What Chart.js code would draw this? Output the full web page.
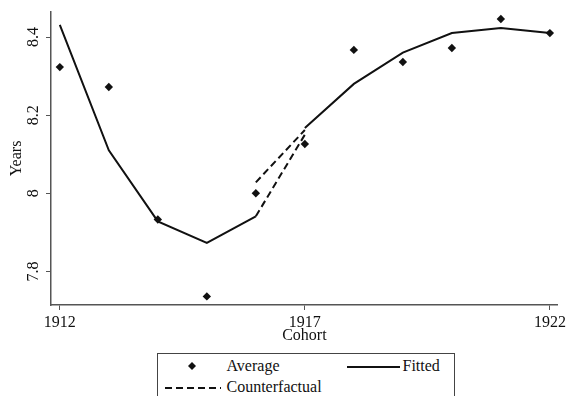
<!DOCTYPE html>
<html>
<head>
<meta charset="utf-8">
<script src="https://cdn.jsdelivr.net/npm/chart.js@4/dist/chart.umd.min.js"></script>
<style>
  html, body { margin: 0; padding: 0; background: #fff; }
  #wrap { position: relative; width: 569px; height: 396px; overflow: hidden; background: #fff; }
  #c { position: absolute; left: 0; top: 0; }
  #legend { position: absolute; left: 157px; top: 353px; width: 296px; height: 70px;
            border: 1.5px solid #444; background: #fff; font-family: "Liberation Serif", "Times New Roman", serif;
            font-size: 16px; color: #111; }
  #legend .t { position: absolute; line-height: 20px; white-space: nowrap; }
  #legend svg { position: absolute; overflow: visible; }
</style>
</head>
<body>
<div id="wrap">
  <canvas id="c" width="569" height="396"></canvas>
  <div id="legend"></div>
</div>
<script>
// ---- data ----
const cohorts  = [1912, 1913, 1914, 1915, 1916, 1917, 1918, 1919, 1920, 1921, 1922];
const average  = [8.323, 8.272, 7.933, 7.736, 8.000, 8.126, 8.367, 8.336, 8.372, 8.446, 8.410];
const fitted   = [8.431, 8.110, 7.928, 7.873, 7.941, 8.167, 8.280, 8.360, 8.410, 8.423, 8.410];
const fittedBreakAfter = 1916;          // fitted line is broken between 1916 and 1917
const cfYears  = [1916, 1917];
const cfUpper  = [8.028, 8.162];
const cfLower  = [7.941, 8.150];
const xTicks   = [1912, 1917, 1922];
const yTicks   = [7.8, 8.0, 8.2, 8.4];
const seriesLabels = ['Average', 'Fitted', 'Counterfactual'];

const toXY = (xs, ys) => xs.map((x, i) => ({ x: x, y: ys[i] }));
const fittedXY = toXY(cohorts, fitted);
const fittedPre  = fittedXY.filter(p => p.x <= fittedBreakAfter);
const fittedPost = fittedXY.filter(p => p.x > fittedBreakAfter);

const INK = '#111';
const AXIS = '#555';
const font = { family: '"Liberation Serif", "Times New Roman", serif', size: 16 };

const lineStyle = { borderColor: INK, borderWidth: 2, pointRadius: 0, tension: 0, fill: false };

new Chart(document.getElementById('c'), {
  type: 'line',
  data: {
    datasets: [
      { label: seriesLabels[0], data: toXY(cohorts, average), showLine: false,
        pointStyle: 'rectRot', pointRadius: 4.2, pointBackgroundColor: INK, pointBorderWidth: 0, order: 0 },
      Object.assign({ label: seriesLabels[1], data: fittedPre, order: 1 }, lineStyle),
      Object.assign({ label: seriesLabels[1] + ' (post)', data: fittedPost, order: 1 }, lineStyle),
      Object.assign({ label: seriesLabels[2], data: toXY(cfYears, cfUpper), borderDash: [7, 4], order: 2 }, lineStyle),
      Object.assign({ label: seriesLabels[2] + ' (2)', data: toXY(cfYears, cfLower), borderDash: [7, 4], order: 2 }, lineStyle)
    ]
  },
  options: {
    responsive: false,
    animation: false,
    devicePixelRatio: 1,
    layout: { padding: { top: 12, right: 8, left: 0, bottom: 0 } },
    plugins: { legend: { display: false }, tooltip: { enabled: false } },
    scales: {
      x: {
        type: 'linear', min: 1911.82, max: 1922.16,
        afterBuildTicks: s => { s.ticks = xTicks.map(v => ({ value: v })); },
        afterFit: s => { s.height = 91; },
        ticks: { font: font, color: INK, padding: 3, maxRotation: 0, minRotation: 0,
                 callback: v => String(v) },
        grid: { display: true, drawOnChartArea: false, drawTicks: true, tickLength: 5, color: AXIS, lineWidth: 1 },
        border: { display: true, color: AXIS, width: 1.5 },
        title: { display: true, text: 'Cohort', font: font, color: INK, padding: { top: 0, bottom: 51 } }
      },
      y: {
        type: 'linear', min: 7.714, max: 8.464,
        afterBuildTicks: s => { s.ticks = yTicks.map(v => ({ value: v })); },
        afterFit: s => { s.width = 51; },
        ticks: { font: font, color: INK, padding: 2, minRotation: 90, maxRotation: 90, crossAlign: 'center',
                 callback: v => String(+Number(v).toFixed(1)) },
        grid: { display: true, drawOnChartArea: false, drawTicks: true, tickLength: 5, color: AXIS, lineWidth: 1 },
        border: { display: true, color: AXIS, width: 1.5 },
        title: { display: true, text: 'Years', font: font, color: INK, padding: { top: 7, bottom: 0 } }
      }
    }
  }
});

// ---- legend (HTML, real text) ----
const lg = document.getElementById('legend');
function txt(s, left, top) {
  const d = document.createElement('div');
  d.className = 't'; d.textContent = s;
  d.style.left = left + 'px'; d.style.top = top + 'px';
  lg.appendChild(d);
}
function svg(html, left, top, w, h) {
  const ns = 'http://www.w3.org/2000/svg';
  const s = document.createElementNS(ns, 'svg');
  s.setAttribute('width', w); s.setAttribute('height', h);
  s.style.left = left + 'px'; s.style.top = top + 'px';
  s.innerHTML = html;
  lg.appendChild(s);
}
// row 1
svg('<polygon points="4,0 8,4 4,8 0,4" fill="' + INK + '"/>', 30, 8, 8, 8);
txt(seriesLabels[0], 68.5, 2);
svg('<line x1="0" y1="2" x2="53" y2="2" stroke="' + INK + '" stroke-width="2"/>', 188.5, 10.5, 53, 4);
txt(seriesLabels[1], 244.5, 2);
// row 2
svg('<line x1="0" y1="2" x2="56" y2="2" stroke="' + INK + '" stroke-width="2" stroke-dasharray="7 4"/>', 6.5, 31.5, 56, 4);
txt(seriesLabels[2], 68.5, 22.5);
</script>
</body>
</html>
